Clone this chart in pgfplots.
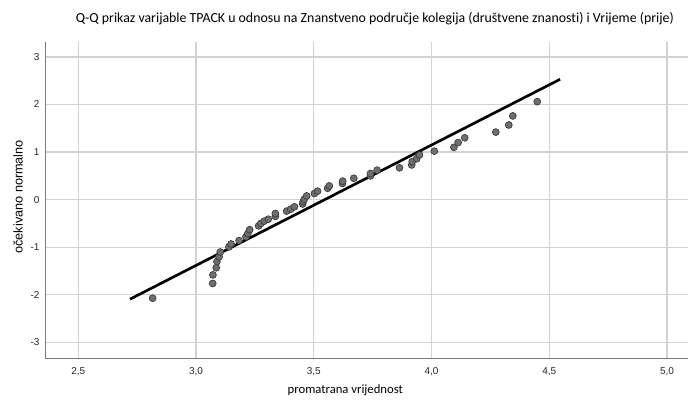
\documentclass[border=0pt]{standalone}
\usepackage{fontspec}
\setmainfont{Liberation Sans}
\newfontfamily\calibri[Ligatures=NoCommon]{Carlito}
\usepackage{pgfplots}
\pgfplotsset{compat=1.18}
\definecolor{gridc}{HTML}{D2D2D2}
\definecolor{axisc}{HTML}{7A7A7A}
\definecolor{markfill}{HTML}{6E6E6E}
\definecolor{markedge}{HTML}{3A3A3A}
\begin{document}
\begin{tikzpicture}
\useasboundingbox (0,0) rectangle (516pt,300.75pt);
\begin{axis}[
  at={(33.75pt,32.25pt)}, anchor=south west,
  scale only axis, width=482.25pt, height=237pt,
  xmin=2.359, xmax=5.089, ymin=-3.326, ymax=3.313,
  axis x line*=bottom, axis y line*=left,
  axis line style={axisc, line width=0.7pt, -},
  major tick length=0pt,
  xtick={2.5,3,3.5,4,4.5,5},
  xticklabels={{2,5},{3,0},{3,5},{4,0},{4,5},{5,0}},
  ytick={-3,-2,-1,0,1,2,3},
  yticklabels={-3,-2,-1,0,1,2,3},
  tick label style={font=\fontsize{7.5}{8.5}\selectfont, text=black!85},
  xticklabel style={anchor=center, yshift=-10.5pt},
  yticklabel style={anchor=east, inner sep=0pt, xshift=-4pt},
  grid=major,
  major grid style={gridc, line width=0.9pt},
  title={Q-Q prikaz varijable TPACK u odnosu na Znanstveno područje kolegija (društvene znanosti) i Vrijeme (prije)},
  title style={at={(axis description cs:0.513,1.05)}, anchor=center, font=\calibri\fontsize{10.4}{12}\selectfont, inner sep=0pt},
  xlabel={promatrana vrijednost},
  xlabel style={at={(axis description cs:0.467,-0.101)}, anchor=center, font=\calibri\fontsize{9.5}{11}\selectfont, inner sep=0pt},
  ylabel={očekivano normalno},
  ylabel style={at={(axis description cs:-0.042,0.51)}, anchor=center, font=\fontsize{9.5}{11}\selectfont, inner sep=0pt},
]
\addplot[only marks, mark=*, mark size=2.6pt, mark options={fill=markfill, draw=markedge, line width=0.5pt}] coordinates {
(2.816,-2.07) (3.071,-1.76) (3.072,-1.58) (3.086,-1.43) (3.089,-1.30)
(3.098,-1.20) (3.103,-1.10) (3.140,-0.99) (3.149,-0.93) (3.183,-0.86)
(3.212,-0.78) (3.220,-0.71) (3.228,-0.63) (3.266,-0.55) (3.275,-0.50)
(3.290,-0.45) (3.307,-0.41) (3.337,-0.35) (3.337,-0.29) (3.385,-0.24)
(3.402,-0.20) (3.418,-0.15) (3.453,-0.09) (3.455,-0.04) (3.460,0.01)
(3.470,0.08) (3.503,0.13) (3.516,0.18) (3.559,0.24) (3.566,0.29)
(3.622,0.34) (3.623,0.39) (3.670,0.45) (3.741,0.50) (3.741,0.55)
(3.769,0.62) (3.864,0.67) (3.916,0.73) (3.918,0.80) (3.937,0.86)
(3.949,0.94) (4.012,1.02) (4.095,1.10) (4.113,1.20) (4.141,1.30)
(4.273,1.42) (4.328,1.57) (4.345,1.76) (4.449,2.06)
};
\addplot[black, line width=2pt] coordinates {(2.72,-2.09) (4.546,2.53)};
\end{axis}
\end{tikzpicture}
\end{document}
